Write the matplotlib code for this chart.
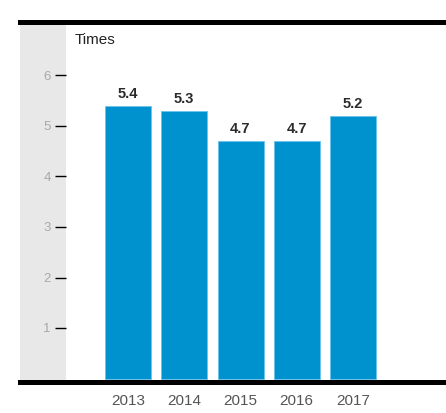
import numpy as np
import matplotlib
matplotlib.use('Agg')
import matplotlib.pyplot as plt
from matplotlib.patches import Rectangle

plt.rcParams['font.family'] = ['Liberation Sans Narrow', 'Liberation Sans', 'DejaVu Sans']

years = ['2013', '2014', '2015', '2016', '2017']
values = [5.4, 5.3, 4.7, 4.7, 5.2]
yticks = [1, 2, 3, 4, 5, 6]
unit_label = 'Times'

W, H = 446, 413
fig = plt.figure(figsize=(W / 100, H / 100), dpi=100)

# axes placed in pixel terms: left 20, right 446, top 22, bottom 381.5
left, right, top, bottom = 20, 446, 22, 381.5
ax = fig.add_axes([left / W, 1 - bottom / H, (right - left) / W, (bottom - top) / H])

px_per_unit = 50.5
zero_y = 378.5
pitch = 56.25
x0 = 128  # centre of the first bar in px
x = np.arange(len(years))

ax.set_xlim((left - x0) / pitch, (right - x0) / pitch)
ax.set_ylim(-(bottom - zero_y) / px_per_unit, (zero_y - top) / px_per_unit)

# grey band on the left
band_w = (66 - left) / (right - left)
ax.add_patch(Rectangle((0, 0), band_w, 1, transform=ax.transAxes,
                       facecolor='#e8e8e8', edgecolor='none', zorder=0))

bars = ax.bar(x, values, width=46 / pitch, color='#0091cf',
              edgecolor='#6cc4ec', linewidth=0.6, zorder=2)

for xi, v in zip(x, values):
    ax.text(xi, v + 0.1, f'{v:.1f}', ha='center', va='bottom',
            fontsize=10.5, fontweight='bold', color='#2b2b2b')

ax.text((75 - left) / (right - left), 1 - (40 - top) / (bottom - top), unit_label,
        transform=ax.transAxes, ha='left', va='center', fontsize=11, color='#222222')

for s in ['left', 'right']:
    ax.spines[s].set_visible(False)
ax.spines['top'].set_linewidth(3.6)
ax.spines['bottom'].set_linewidth(3.6)
ax.spines['top'].set_zorder(5)
ax.spines['bottom'].set_zorder(5)

ax.spines['left'].set_position(('axes', band_w))
ax.set_yticks(yticks)
ax.set_yticklabels([str(t) for t in yticks])
ax.tick_params(axis='y', length=8, width=1, color='black', pad=3,
               labelsize=9.5, labelcolor='#a8a8a8')

ax.set_xticks(x)
ax.set_xticklabels(years)
ax.tick_params(axis='x', length=0, pad=9, labelsize=11, labelcolor='#555555')

fig.savefig('out.png', dpi=100)
